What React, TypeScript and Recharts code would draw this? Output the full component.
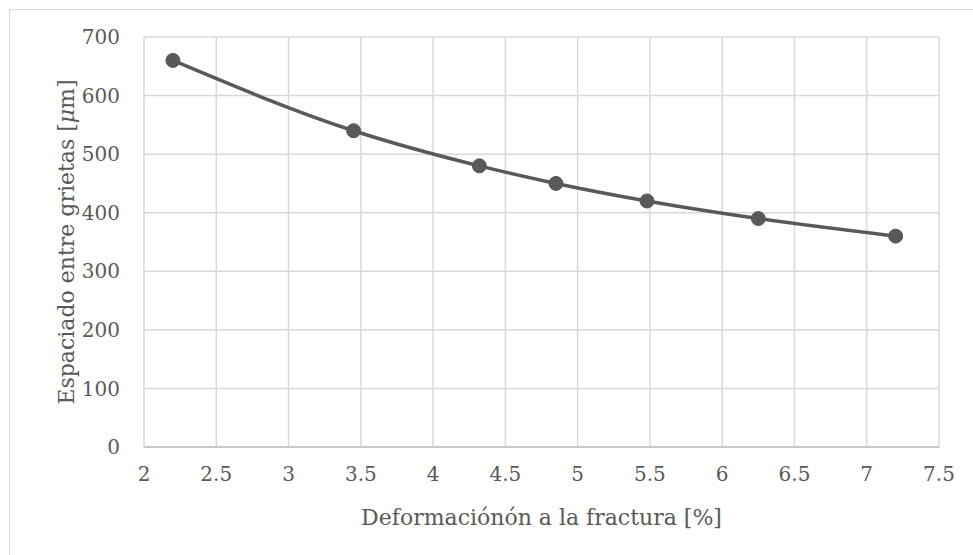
import { LineChart, Line, XAxis, YAxis, CartesianGrid, Label } from "recharts";

const deformation = [2.2, 3.45, 4.32, 4.85, 5.48, 6.25, 7.2];
const spacing = [660, 540, 480, 450, 420, 390, 360];
const xTicks = [2, 2.5, 3, 3.5, 4, 4.5, 5, 5.5, 6, 6.5, 7, 7.5];
const yTicks = [0, 100, 200, 300, 400, 500, 600, 700];

const data = deformation.map((d, i) => ({ x: d, y: spacing[i] }));

const FONT = "'DejaVu Serif', serif";
const TEXT = "#595959";

const YTitle = ({ viewBox }: any) => {
  const cx = 66;
  const cy = viewBox.y + viewBox.height / 2;
  return (
    <text
      x={cx}
      y={cy}
      transform={`rotate(-90, ${cx}, ${cy})`}
      textAnchor="middle"
      dominantBaseline="central"
      fill={TEXT}
      fontSize={22}
      fontFamily={FONT}
    >
      Espaciado entre grietas [<tspan fontStyle="italic">μ</tspan>m]
    </text>
  );
};

export default function App() {
  return (
    <div
      style={{
        position: "absolute",
        left: 0,
        top: 0,
        width: 973,
        height: 555,
        background: "#fff",
        overflow: "hidden",
      }}
    >
      <div
        style={{
          position: "absolute",
          left: 9,
          top: 9,
          width: 980,
          height: 560,
          borderLeft: "1.5px solid #d9d9d9",
          borderTop: "1.5px solid #d9d9d9",
        }}
      />
      <div style={{ position: "absolute", left: 0, top: 0 }}>
        <LineChart
          width={973}
          height={555}
          data={data}
          margin={{ top: 37, right: 34, left: 0, bottom: 0 }}
        >
          <CartesianGrid stroke="#d9d9d9" strokeWidth={1.5} />
          <XAxis
            dataKey="x"
            type="number"
            domain={[2, 7.5]}
            ticks={xTicks}
            height={108}
            tickLine={false}
            tickSize={0}
            tickMargin={20}
            axisLine={{ stroke: "#bfbfbf", strokeWidth: 1.5 }}
            tick={{ fill: TEXT, fontSize: 20, fontFamily: FONT }}
            interval={0}
          >
            <Label
              value="Deformaciónón a la fractura [%]"
              position="insideTop"
              offset={62}
              fill={TEXT}
              fontSize={22}
              fontFamily={FONT}
            />
          </XAxis>
          <YAxis
            type="number"
            domain={[0, 700]}
            ticks={yTicks}
            width={144}
            tickLine={false}
            tickSize={0}
            tickMargin={24}
            axisLine={false}
            tick={{ fill: TEXT, fontSize: 20, fontFamily: FONT }}
            interval={0}
          >
            <Label content={<YTitle />} />
          </YAxis>
          <Line
            type="monotone"
            dataKey="y"
            stroke="#595959"
            strokeWidth={3.5}
            dot={{ r: 7, fill: "#595959", stroke: "#595959", strokeWidth: 1 }}
            isAnimationActive={false}
          />
        </LineChart>
      </div>
    </div>
  );
}
